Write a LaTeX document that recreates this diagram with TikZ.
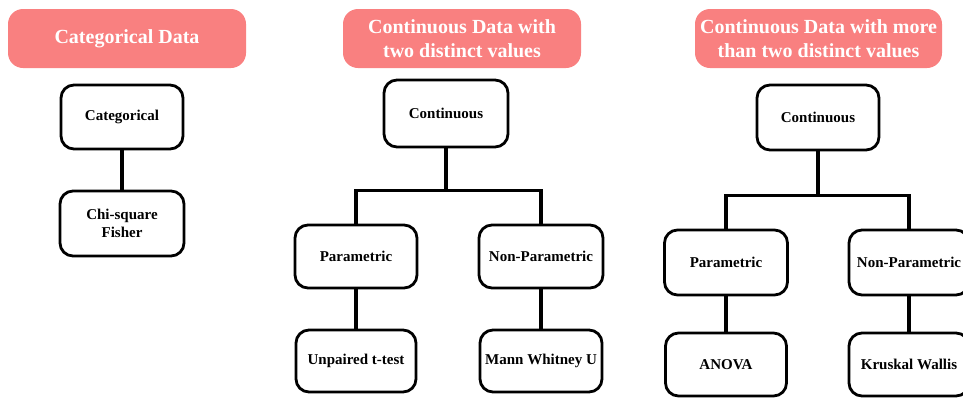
\documentclass[tikz,border=0pt]{standalone}
\usepackage{fontspec}
\setmainfont{Liberation Serif}
\usetikzlibrary{positioning}
\definecolor{salmon}{RGB}{249,128,128}

\begin{document}
\begin{tikzpicture}[x=1pt, y=-1pt,
 title/.style={rectangle,
 rounded corners=15pt,
 fill=salmon,
 text=white,
 minimum width=238pt,
 minimum height=59pt,
 align=center,
 font=\fontsize{20}{24}\selectfont\bfseries},
 box/.style={rectangle,
 draw,
 line width=2.8pt,
 rounded corners=13pt,
 minimum width=122pt,
 minimum height=64pt,
 align=center,
 font=\fontsize{15}{18}\selectfont\bfseries},
 link/.style={line width=3.2pt}]
 \useasboundingbox (0,0) rectangle (963,397);

 % categorical
 \node[title] (t1) at (127,38.5) {Categorical Data};
 \node[box] (a1) at (122,117) {Categorical};
 \node[box, minimum width=124pt, minimum height=65pt] (b1) at (122,223.5) {Chi-square\\Fisher};

 % two distinct values
 \node[title] (t2) at (462,38.5) {Continuous Data with\\two distinct values};
 \node[box, minimum width=124pt, minimum height=67pt] (c2) at (446,113.5) {Continuous};
 \node[box, minimum height=63pt] (p2) at (356,256.5) {Parametric};
 \node[box, minimum width=124pt, minimum height=63pt] (n2) at (541,256.5) {Non-Parametric};
 \node[box, minimum width=120pt, minimum height=62pt] (u2) at (356,361) {Unpaired t-test};
 \node[box, minimum width=122pt, minimum height=62pt] (m2) at (541,361) {Mann Whitney U};

 % more than two distinct values
 \node[title, minimum width=247pt] (t3) at (818.5,38.5) {Continuous Data with more\\than two distinct values};
 \node[box, minimum height=65pt] (c3) at (818,117.5) {Continuous};
 \node[box, minimum width=123pt, minimum height=65pt] (p3) at (726,262.5) {Parametric};
 \node[box, minimum width=120pt, minimum height=65pt] (n3) at (909,262.5) {Non-Parametric};
 \node[box, minimum width=121pt, minimum height=63pt] (v3) at (726,364.5) {ANOVA};
 \node[box, minimum width=120pt, minimum height=63pt] (k3) at (909,364.5) {Kruskal Wallis};

 \draw[link] (a1) -- (b1);

 \draw[link] (c2.south) -- ++(0,42) coordinate (j2);
 \draw[link] (p2) |- (j2) -| (n2);
 \draw[link] (p2) -- (u2);
 \draw[link] (n2) -- (m2);

 \draw[link] (c3.south) -- ++(0,44) coordinate (j3);
 \draw[link] (p3) |- (j3) -| (n3);
 \draw[link] (p3) -- (v3);
 \draw[link] (n3) -- (k3);
\end{tikzpicture}
\end{document}
